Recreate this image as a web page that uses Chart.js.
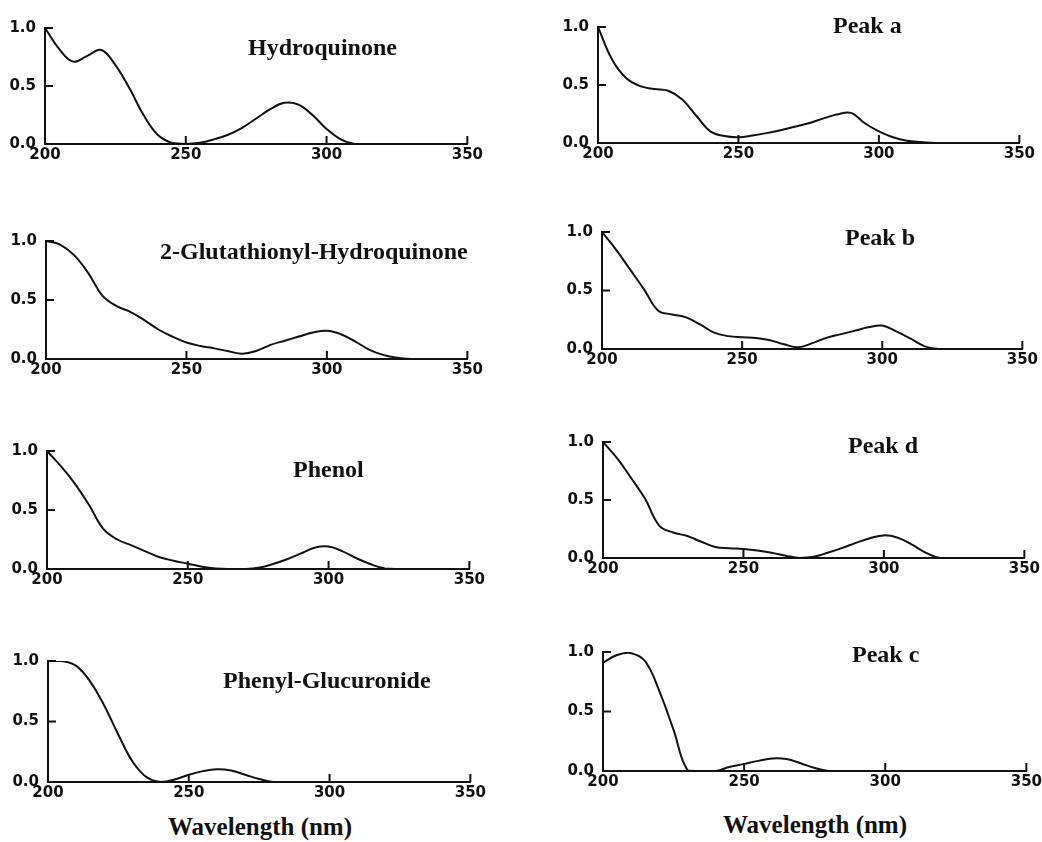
<!DOCTYPE html>
<html>
<head>
<meta charset="utf-8">
<script src="https://cdn.jsdelivr.net/npm/chart.js@4.4.1/dist/chart.umd.min.js"></script>
<style>
  body { margin: 0; background: #fff; width: 1042px; height: 842px; position: relative; overflow: hidden; }
  .panel { position: absolute; }
  .label { position: absolute; font-family: "Liberation Serif", "Times New Roman", serif; font-weight: bold; color: #111; white-space: nowrap; line-height: 1; }
</style>
</head>
<body>
<script>
// wavelength (nm), one reading every 5 nm
const wavelength = [200, 205, 210, 215, 220, 225, 230, 235, 240, 245, 250, 255, 260, 265, 270, 275,
                    280, 285, 290, 295, 300, 305, 310, 315, 320, 325, 330, 335, 340, 345, 350];

// normalised absorbance
const hydroquinone = [1.0, 0.82, 0.71, 0.76, 0.81, 0.68, 0.48, 0.25, 0.08, 0.01, 0.0, 0.01, 0.04, 0.08, 0.14, 0.22,
                      0.30, 0.355, 0.34, 0.25, 0.13, 0.04, 0.0, 0, 0, 0, 0, 0, 0, 0, 0];
const glutathionylHQ = [1.0, 0.97, 0.88, 0.73, 0.54, 0.45, 0.40, 0.33, 0.25, 0.19, 0.14, 0.11, 0.09, 0.065, 0.045, 0.07,
                        0.12, 0.155, 0.19, 0.225, 0.24, 0.21, 0.15, 0.08, 0.035, 0.01, 0, 0, 0, 0, 0];
const phenol = [1.0, 0.87, 0.72, 0.54, 0.34, 0.25, 0.20, 0.15, 0.10, 0.07, 0.045, 0.02, 0.005, 0, 0, 0.01,
                0.04, 0.08, 0.13, 0.18, 0.19, 0.15, 0.09, 0.04, 0.005, 0, 0, 0, 0, 0, 0];
const phenylGlucuronide = [1.0, 1.0, 0.96, 0.83, 0.63, 0.39, 0.17, 0.04, 0.0, 0.02, 0.06, 0.09, 0.105, 0.095, 0.06, 0.025,
                           0, 0, 0, 0, 0, 0, 0, 0, 0, 0, 0, 0, 0, 0, 0];
const peakA = [1.0, 0.72, 0.56, 0.49, 0.465, 0.45, 0.375, 0.235, 0.10, 0.06, 0.05, 0.065, 0.085, 0.11, 0.14, 0.17,
               0.21, 0.245, 0.26, 0.17, 0.10, 0.05, 0.02, 0.008, 0, 0, 0, 0, 0, 0, 0];
const peakB = [1.0, 0.85, 0.68, 0.51, 0.33, 0.295, 0.27, 0.21, 0.14, 0.11, 0.10, 0.095, 0.075, 0.04, 0.015, 0.05,
               0.095, 0.125, 0.155, 0.185, 0.20, 0.15, 0.09, 0.025, 0, 0, 0, 0, 0, 0, 0];
const peakD = [1.0, 0.86, 0.69, 0.51, 0.28, 0.22, 0.19, 0.14, 0.095, 0.085, 0.078, 0.065, 0.045, 0.02, 0.0, 0.01,
               0.045, 0.085, 0.13, 0.17, 0.195, 0.175, 0.115, 0.045, 0, 0, 0, 0, 0, 0, 0];
const peakC = [0.91, 0.975, 0.99, 0.92, 0.67, 0.345, 0.005, 0, 0, 0.035, 0.06, 0.085, 0.105, 0.10, 0.065, 0.025,
               0, 0, 0, 0, 0, 0, 0, 0, 0, 0, 0, 0, 0, 0, 0];

const xTicks = [200, 250, 300, 350];
const yTicks = [0.0, 0.5, 1.0];

// panel name, series, plot area on the page [left, right, top, bottom], name position [left, baseline]
const panels = [
  { name: 'Hydroquinone', values: hydroquinone, area: [45, 468, 20, 144], text: [248, 55] },
  { name: '2-Glutathionyl-Hydroquinone', values: glutathionylHQ, area: [46, 468, 233, 359], text: [160, 259] },
  { name: 'Phenol', values: phenol, area: [47, 470, 443, 569], text: [293, 477] },
  { name: 'Phenyl-Glucuronide', values: phenylGlucuronide, area: [48, 471, 653, 782], text: [223, 688] },
  { name: 'Peak a', values: peakA, area: [598, 1020, 19, 143], text: [833, 33] },
  { name: 'Peak b', values: peakB, area: [602, 1023, 224, 349], text: [845, 245] },
  { name: 'Peak d', values: peakD, area: [603, 1025, 434, 558], text: [848, 453] },
  { name: 'Peak c', values: peakC, area: [603, 1027, 644, 771], text: [852, 662] }
];

const ink = '#111';
const yAxisW = 45, xAxisH = 21, padTop = 10, padRight = 17;
const tickFont = { family: 'DejaVu Sans', size: 15, weight: 'bold' };

// short tick marks pointing into the plot, on the scale's own tick values
const innerTicks = {
  id: 'innerTicks',
  afterDatasetsDraw(chart) {
    const { ctx, chartArea: a, scales: { x, y } } = chart;
    ctx.save();
    ctx.strokeStyle = ink;
    ctx.lineWidth = 2;
    ctx.beginPath();
    x.ticks.forEach(t => {
      if (t.value <= x.min) return;
      const px = x.getPixelForValue(t.value);
      ctx.moveTo(px, a.bottom);
      ctx.lineTo(px, a.bottom - 8);
    });
    y.ticks.forEach(t => {
      if (t.value <= y.min) return;
      const py = y.getPixelForValue(t.value);
      ctx.moveTo(a.left, py);
      ctx.lineTo(a.left + 8, py);
    });
    ctx.stroke();
    ctx.restore();
  }
};

function addLabel(text, left, baseline, size) {
  const d = document.createElement('div');
  d.className = 'label';
  d.textContent = text;
  d.style.fontSize = size + 'px';
  d.style.left = left + 'px';
  d.style.top = (baseline - Math.round(size * 0.84)) + 'px';
  document.body.appendChild(d);
}

panels.forEach(p => {
  const [L, R, T, B] = p.area;
  const box = document.createElement('div');
  box.className = 'panel';
  box.style.left = (L - yAxisW) + 'px';
  box.style.top = (T - padTop) + 'px';
  box.style.width = (R - L + yAxisW + padRight) + 'px';
  box.style.height = (B - T + padTop + xAxisH) + 'px';
  const canvas = document.createElement('canvas');
  box.appendChild(canvas);
  document.body.appendChild(box);

  new Chart(canvas, {
    type: 'line',
    data: {
      datasets: [{
        data: wavelength.map((w, i) => ({ x: w, y: p.values[i] })),
        borderColor: ink,
        borderWidth: 2,
        pointRadius: 0,
        tension: 0.4,
        fill: false
      }]
    },
    options: {
      responsive: true,
      maintainAspectRatio: false,
      animation: false,
      events: [],
      layout: { padding: { top: padTop, right: padRight, left: 0, bottom: 0 } },
      plugins: { legend: { display: false }, tooltip: { enabled: false } },
      scales: {
        x: {
          type: 'linear',
          min: xTicks[0],
          max: xTicks[xTicks.length - 1],
          afterBuildTicks: s => { s.ticks = xTicks.map(v => ({ value: v })); },
          afterFit: s => { s.height = xAxisH; },
          grid: { display: false, drawTicks: false },
          border: { display: true, color: ink, width: 2 },
          ticks: { color: ink, font: tickFont, padding: 2, maxRotation: 0 }
        },
        y: {
          min: yTicks[0],
          max: yTicks[yTicks.length - 1],
          afterBuildTicks: s => { s.ticks = yTicks.map(v => ({ value: v })); },
          afterFit: s => { s.width = yAxisW; },
          grid: { display: false, drawTicks: false },
          border: { display: true, color: ink, width: 2 },
          ticks: { color: ink, font: tickFont, padding: 9, callback: v => v.toFixed(1) }
        }
      }
    },
    plugins: [innerTicks]
  });

  addLabel(p.name, p.text[0], p.text[1], 24);
});

addLabel('Wavelength (nm)', 168, 835, 25);
addLabel('Wavelength (nm)', 723, 833, 25);
</script>
</body>
</html>
